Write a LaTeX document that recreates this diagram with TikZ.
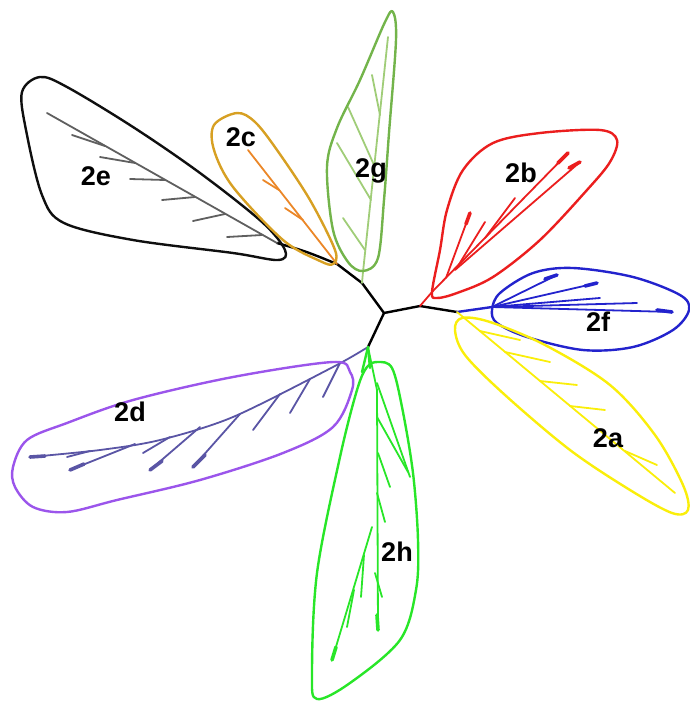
\documentclass[tikz,border=0pt]{standalone}
\usepackage{fontspec}
\setsansfont{Liberation Sans}

\definecolor{hullE}{RGB}{15,15,15}
\definecolor{treeE}{RGB}{95,95,95}
\definecolor{hullC}{RGB}{215,160,35}
\definecolor{treeC}{RGB}{235,135,40}
\definecolor{hullG}{RGB}{115,180,75}
\definecolor{treeG}{RGB}{160,205,120}
\definecolor{cladeB}{RGB}{235,30,30}
\definecolor{cladeF}{RGB}{35,35,205}
\definecolor{cladeA}{RGB}{250,238,10}
\definecolor{hullD}{RGB}{155,85,235}
\definecolor{treeD}{RGB}{90,85,165}
\definecolor{cladeH}{RGB}{40,230,40}

\begin{document}
\begin{tikzpicture}
[
	x=1pt,y=-1pt,
	hull/.style={line width=2.4pt,line join=round},
	stem/.style={line width=2.4pt,line cap=round,line join=round},
	twig/.style={line width=1.8pt,line cap=round},
	tipw/.style={line width=3.6pt,line cap=round},
	lbl/.style={font=\sffamily\bfseries\fontsize{27}{27}\selectfont,inner sep=0pt}
]

	\useasboundingbox (0,0) rectangle (689,705);

	% junctions of the backbone
	\coordinate (root) at (384,313);
	\coordinate (jup) at (362,283);
	\coordinate (jc) at (337,264);
	\coordinate (je) at (277,243);
	\coordinate (jr) at (420,306);
	\coordinate (jf) at (457,312);
	\coordinate (jdn) at (368,347);

	% backbone
	\draw[stem,black] (je) .. controls (305,251) .. (jc) -- (jup) -- (root) -- (jr) -- (jf);
	\draw[stem,black] (root) -- (jdn);

	% 2e
	\draw[twig,treeE] (je) -- (47,113);
	\draw[twig,treeE] (72,135) -- (105,146);
	\draw[twig,treeE] (100,157) -- (135,163);
	\draw[twig,treeE] (130,179) -- (165,180);
	\draw[twig,treeE] (162,200) -- (195,197);
	\draw[twig,treeE] (193,221) -- (225,214);
	\draw[twig,treeE] (227,237) -- (262,235);

	% 2c
	\draw[twig,treeC] (jc) -- (248,150);
	\draw[twig,treeC] (263,180) -- (279,190);
	\draw[twig,treeC] (285,208) -- (303,220);

	% 2g
	\draw[twig,treeG] (jup) -- (363,272) -- (388,37);
	\draw[twig,treeG] (343,218) -- (365,250);
	\draw[twig,treeG] (337,143) -- (371,200);
	\draw[twig,treeG] (348,107) -- (374,165);
	\draw[twig,treeG] (372,75) -- (380,115);

	% 2b
	\draw[twig,cladeB] (jr) -- (432,292) -- (568,153);
	\draw[twig,cladeB] (455,270) -- (580,162);
	\draw[twig,cladeB] (446,278) -- (470,213);
	\draw[twig,cladeB] (458,266) -- (485,222);
	\draw[twig,cladeB] (485,238) -- (515,198);
	\draw[tipw,cladeB] (466,224) -- (470,213);
	\draw[tipw,cladeB] (558,163) -- (568,153);
	\draw[tipw,cladeB] (569,168) -- (580,162);

	% 2f
	\draw[stem,cladeF] (jf) -- (492,307);
	\draw[twig,cladeF] (492,307) -- (672,312);
	\draw[twig,cladeF] (492,307) -- (597,283);
	\draw[twig,cladeF] (492,307) -- (557,275);
	\draw[twig,cladeF] (492,307) -- (600,298);
	\draw[twig,cladeF] (492,307) -- (637,303);
	\draw[tipw,cladeF] (657,310) -- (672,312);
	\draw[tipw,cladeF] (585,286) -- (597,283);
	\draw[tipw,cladeF] (545,279) -- (557,275);

	% 2a
	\draw[twig,cladeA] (jf) -- (675,493);
	\draw[twig,cladeA] (480,331) -- (520,340);
	\draw[twig,cladeA] (505,352) -- (550,362);
	\draw[twig,cladeA] (540,381) -- (577,385);
	\draw[twig,cladeA] (570,406) -- (605,410);
	\draw[twig,cladeA] (625,451) -- (657,465);

	% 2d
	\draw[twig,treeD] plot[smooth] coordinates {(jdn) (333,367) (233,417) (160,440) (100,450) (30,457)};
	\draw[twig,treeD] (340,363) -- (323,397);
	\draw[twig,treeD] (310,379) -- (290,413);
	\draw[twig,treeD] (280,394) -- (253,430);
	\draw[twig,treeD] (240,414) -- (193,467);
	\draw[twig,treeD] (200,427) -- (150,470);
	\draw[twig,treeD] (170,437) -- (143,453);
	\draw[twig,treeD] (135,444) -- (70,470);
	\draw[twig,treeD] (90,451) -- (67,457);
	\draw[tipw,treeD] (205,455) -- (193,467);
	\draw[tipw,treeD] (162,461) -- (150,470);
	\draw[tipw,treeD] (84,464) -- (70,470);
	\draw[tipw,treeD] (45,456) -- (30,457);

	% 2h
	\draw[stem,cladeH] (jdn) -- (362,372);
	\draw[stem,cladeH] (jdn) -- (370,368);
	\draw[twig,cladeH] (jdn) -- (377,390) -- (378,630);
	\draw[twig,cladeH] (377,383) -- (410,477);
	\draw[twig,cladeH] (377,417) -- (408,472);
	\draw[twig,cladeH] (378,453) -- (390,487);
	\draw[twig,cladeH] (377,493) -- (385,522);
	\draw[twig,cladeH] (375,573) -- (382,597);
	\draw[twig,cladeH] (372,527) -- (332,660);
	\draw[twig,cladeH] (364,555) -- (361,597);
	\draw[twig,cladeH] (354,590) -- (347,627);
	\draw[tipw,cladeH] (377,615) -- (378,630);
	\draw[tipw,cladeH] (336,647) -- (332,660);

	% clade outlines
	\draw[hull,hullE] plot[smooth cycle,tension=0.55] coordinates {(40,77) (67,87) (133,127) (200,173) (262,222) (285,250) (278,260) (233,253) (133,240) (64,223) (42,195) (26,130) (22,92)};
	\draw[hull,hullC] plot[smooth cycle,tension=0.55] coordinates {(237,113) (255,122) (277,150) (310,200) (335,250) (333,264) (320,261) (283,240) (233,187) (214,150) (214,125)};
	\draw[hull,hullG] plot[smooth cycle,tension=0.55] coordinates {(393,12) (396,40) (389,133) (384,200) (378,258) (363,271) (348,262) (333,230) (327,167) (337,128) (360,80) (385,22)};
	\draw[hull,cladeB] plot[smooth cycle,tension=0.55] coordinates {(432,292) (440,250) (447,210) (463,170) (493,143) (540,133) (600,130) (617,140) (610,162) (587,190) (540,240) (493,277) (457,293) (437,298)};
	\draw[hull,cladeF] plot[smooth cycle,tension=0.55] coordinates {(492,310) (500,293) (533,273) (573,268) (633,277) (680,295) (689,310) (673,330) (633,347) (583,350) (527,337) (497,323)};
	\draw[hull,cladeA] plot[smooth cycle,tension=0.55] coordinates {(462,318) (490,322) (545,345) (610,385) (655,435) (683,485) (688,510) (672,513) (630,490) (570,450) (505,395) (465,355) (455,330)};
	\draw[hull,hullD] plot[smooth cycle,tension=0.55] coordinates {(13,467) (27,440) (67,423) (133,400) (233,377) (333,362) (350,372) (352,390) (333,427) (283,453) (200,480) (117,500) (67,512) (33,507) (15,487)};
	\draw[hull,cladeH] plot[smooth cycle,tension=0.55] coordinates {(378,362) (392,368) (402,407) (413,473) (418,540) (416,590) (400,640) (350,683) (317,699) (312,673) (317,573) (340,457) (357,390) (367,367)};

	% labels
	\node[lbl] (n2e) at (96,176) {2e};
	\node[lbl] (n2c) at (241,137) {2c};
	\node[lbl] (n2g) at (371,171) {2g};
	\node[lbl] (n2b) at (521,173) {2b};
	\node[lbl] (n2f) at (598,322) {2f};
	\node[lbl] (n2a) at (608,438) {2a};
	\node[lbl] (n2d) at (130,412) {2d};
	\node[lbl] (n2h) at (397,552) {2h};

\end{tikzpicture}
\end{document}
